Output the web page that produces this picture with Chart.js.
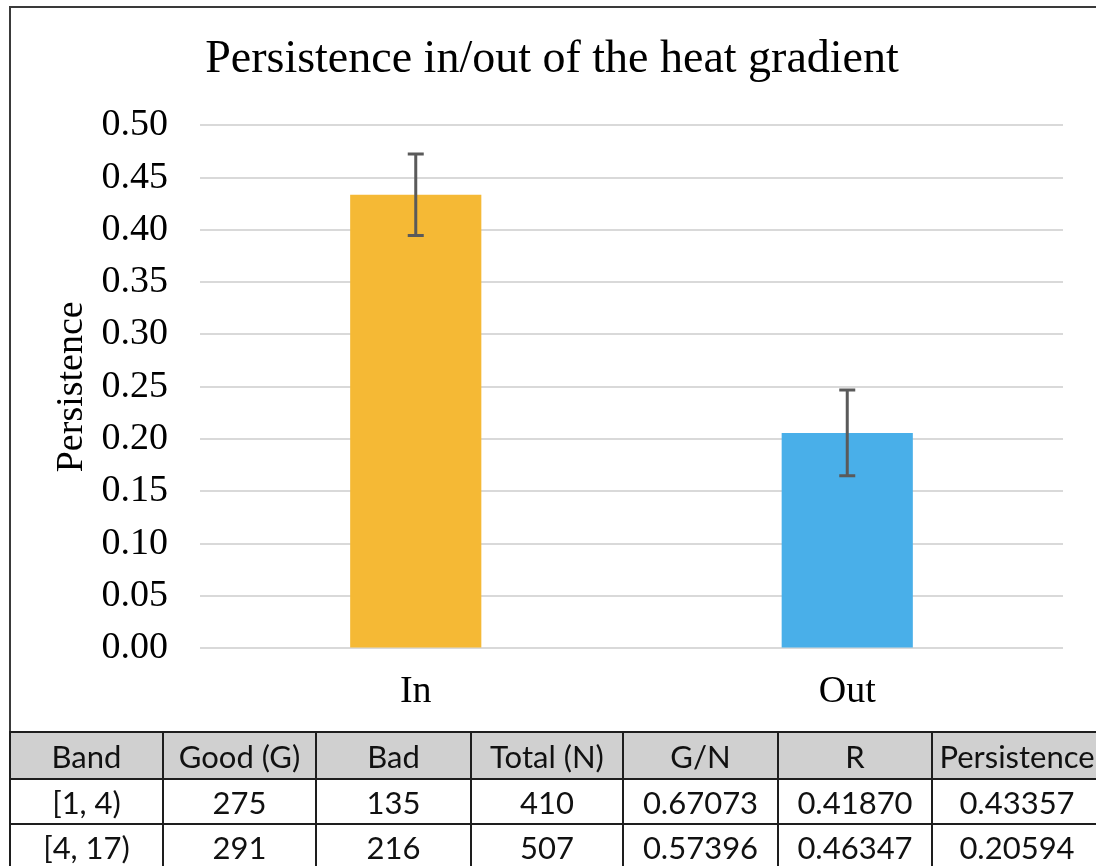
<!DOCTYPE html>
<html>
<head>
<meta charset="utf-8">
<script src="https://cdn.jsdelivr.net/npm/chart.js@4.4.1/dist/chart.umd.min.js"></script>
<style>
  html, body { margin: 0; padding: 0; background: #fff; width: 1096px; height: 866px; overflow: hidden; }
  #box { position: absolute; left: 9px; top: 6px; width: 1200px; height: 726px; border-left: 2px solid #3a3a3a; border-top: 2px solid #3a3a3a; box-sizing: border-box; }
  #wrap { position: absolute; left: 11px; top: 8px; width: 1085px; height: 728px; }
  table { position: absolute; left: 9px; top: 731px; border-collapse: collapse; font-family: Lato, "Open Sans", sans-serif; font-size: 31px; color: #111; table-layout: fixed; }
  td, th { border: 2px solid #1e1e1e; text-align: center; padding: 0; font-weight: normal; white-space: nowrap; overflow: hidden; }
  th { background: #d0d0d0; height: 45px; }
  td { height: 43px; }
</style>
</head>
<body>
<div id="box"></div>
<div id="wrap"><canvas id="c" width="1085" height="728"></canvas></div>
<table id="tbl"></table>
<script>
// ---- data ----
const categories = ["In", "Out"];
const persistence = [0.43357, 0.20594];
const errors = [0.039, 0.041];
const barColors = ["#F5B935", "#49AFE9"];
const yTicks = [0.00, 0.05, 0.10, 0.15, 0.20, 0.25, 0.30, 0.35, 0.40, 0.45, 0.50];

const tableHeaders = ["Band", "Good (G)", "Bad", "Total (N)", "G/N", "R", "Persistence"];
const bands = ["[1, 4)", "[4, 17)"];
const goodCounts = [275, 291];
const badCounts = [135, 216];
const totalCounts = [410, 507];
const gOverN = ["0.67073", "0.57396"];
const rValues = ["0.41870", "0.46347"];
const persistenceText = ["0.43357", "0.20594"];
const colWidths = [153, 153, 155, 152, 155, 154, 170];

// ---- table ----
const tbl = document.getElementById('tbl');
tbl.style.width = colWidths.reduce((a, b) => a + b, 0) + 'px';
const cg = document.createElement('colgroup');
colWidths.forEach(w => { const c = document.createElement('col'); c.style.width = w + 'px'; cg.appendChild(c); });
tbl.appendChild(cg);
const hr = document.createElement('tr');
tableHeaders.forEach(h => { const th = document.createElement('th'); th.textContent = h; hr.appendChild(th); });
tbl.appendChild(hr);
bands.forEach((b, i) => {
  const tr = document.createElement('tr');
  [b, goodCounts[i], badCounts[i], totalCounts[i], gOverN[i], rValues[i], persistenceText[i]].forEach(v => {
    const td = document.createElement('td'); td.textContent = v; tr.appendChild(td);
  });
  tbl.appendChild(tr);
});

// ---- error bar plugin ----
const errorBars = {
  id: 'errorBars',
  afterDatasetsDraw(chart) {
    const ctx = chart.ctx;
    const meta = chart.getDatasetMeta(0);
    const y = chart.scales.y;
    ctx.save();
    ctx.strokeStyle = '#5a5a5a';
    ctx.lineWidth = 3;
    meta.data.forEach((bar, i) => {
      const v = persistence[i], e = errors[i];
      const yTop = y.getPixelForValue(v + e);
      const yBot = y.getPixelForValue(v - e);
      const x = bar.x;
      ctx.beginPath();
      ctx.moveTo(x, yTop); ctx.lineTo(x, yBot);
      ctx.moveTo(x - 8, yTop); ctx.lineTo(x + 8, yTop);
      ctx.moveTo(x - 8, yBot); ctx.lineTo(x + 8, yBot);
      ctx.stroke();
    });
    ctx.restore();
  }
};

new Chart(document.getElementById('c'), {
  type: 'bar',
  data: {
    labels: categories,
    datasets: [{
      data: persistence,
      backgroundColor: barColors,
      borderWidth: 0,
      barPercentage: 0.304,
      categoryPercentage: 1.0
    }]
  },
  options: {
    responsive: false,
    animation: false,
    layout: { padding: { left: 0, right: 3, top: 0, bottom: 0 } },
    plugins: {
      legend: { display: false },
      tooltip: { enabled: false },
      title: {
        display: true,
        text: 'Persistence in/out of the heat gradient',
        color: '#000',
        font: { family: '"Liberation Serif", "Times New Roman", serif', size: 46, weight: 'normal' },
        padding: { top: 24, bottom: 38 }
      }
    },
    scales: {
      x: {
        grid: { display: false, drawTicks: false },
        border: { display: false },
        ticks: { color: '#000', padding: 21, font: { family: '"Liberation Serif", serif', size: 38 } }
      },
      y: {
        min: 0, max: 0.5,
        afterFit(scale) { scale.width = 189; },
        afterBuildTicks(scale) { scale.ticks = yTicks.map(v => ({ value: v })); },
        grid: { color: '#d9d9d9', lineWidth: 2, drawTicks: false },
        border: { display: false },
        ticks: {
          color: '#000', padding: 32,
          font: { family: '"Liberation Serif", serif', size: 38 },
          callback: v => Number(v).toFixed(2)
        },
        title: {
          display: true, text: 'Persistence', color: '#000',
          font: { family: '"Liberation Serif", serif', size: 38 },
          padding: { top: 38, bottom: 0 }
        }
      },
      yRightSpace: {
        position: 'right',
        display: true,
        min: 0, max: 0.5,
        afterFit(scale) { scale.width = 30; },
        grid: { display: false, drawTicks: false },
        border: { display: false },
        ticks: { display: false }
      }
    }
  },
  plugins: [errorBars]
});
</script>
</body>
</html>
